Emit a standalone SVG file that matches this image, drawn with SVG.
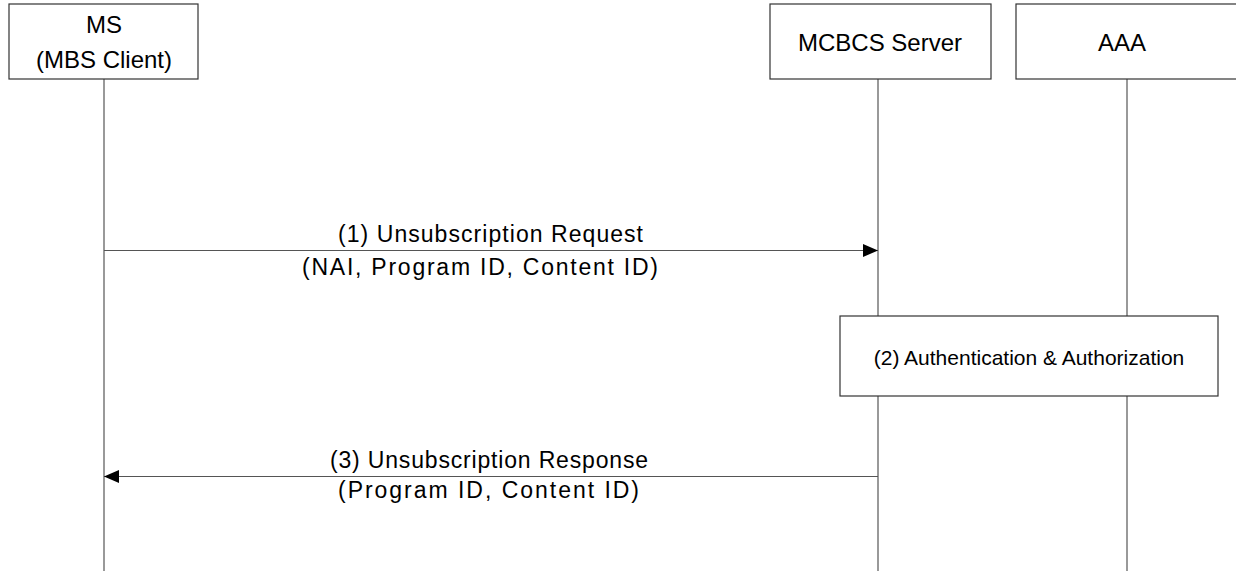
<svg xmlns="http://www.w3.org/2000/svg" width="1236" height="571" viewBox="0 0 1236 571">
<style>
.box{fill:#fff;stroke:#333;stroke-width:1.2}
.life{stroke:#555;stroke-width:1.2;fill:none}
.msg{stroke:#555;stroke-width:1.2;fill:none}
.hdr{font-family:"Liberation Sans",Arial,sans-serif;font-size:24px;fill:#000;text-anchor:middle}
.lbl{font-family:"Liberation Sans",Arial,sans-serif;font-size:23px;fill:#000}
.act{font-family:"Liberation Sans",Arial,sans-serif;font-size:21px;fill:#000;text-anchor:middle}
</style>
<defs>
<marker id="ah" viewBox="0 0 15 13" refX="15" refY="6.5" markerWidth="15" markerHeight="13" markerUnits="userSpaceOnUse" orient="auto">
<path d="M0,0 L15,6.5 L0,13 Z" fill="#000"/>
</marker>
</defs>
<rect width="1236" height="571" fill="#fff"/>
<g id="lifelines">
<line class="life" x1="104" y1="79" x2="104" y2="571"/>
<line class="life" x1="878" y1="79" x2="878" y2="571"/>
<line class="life" x1="1127" y1="79" x2="1127" y2="571"/>
</g>
<g id="node-ms">
<rect class="box" x="9" y="4" width="189" height="75"/>
<text class="hdr" x="104" y="33">MS</text>
<text class="hdr" x="104" y="68">(MBS Client)</text>
</g>
<g id="node-mcbcs">
<rect class="box" x="770" y="4" width="221" height="75"/>
<text class="hdr" x="880" y="51">MCBCS Server</text>
</g>
<g id="node-aaa">
<rect class="box" x="1016" y="4" width="230" height="75"/>
<text class="hdr" x="1122" y="51">AAA</text>
</g>
<g id="node-auth">
<rect class="box" x="840" y="316" width="378" height="80"/>
<text class="act" x="1029" y="365">(2) Authentication &amp; Authorization</text>
</g>
<g id="connectors">
<line class="msg" x1="104" y1="250.5" x2="878" y2="250.5" marker-end="url(#ah)"/>
<text class="lbl" x="338" y="242" textLength="305">(1) Unsubscription Request</text>
<text class="lbl" x="302" y="275" textLength="356">(NAI, Program ID, Content ID)</text>
<line class="msg" x1="878" y1="476.5" x2="104" y2="476.5" marker-end="url(#ah)"/>
<text class="lbl" x="330" y="468" textLength="318">(3) Unsubscription Response</text>
<text class="lbl" x="338" y="498" textLength="301">(Program ID, Content ID)</text>
</g>
</svg>
